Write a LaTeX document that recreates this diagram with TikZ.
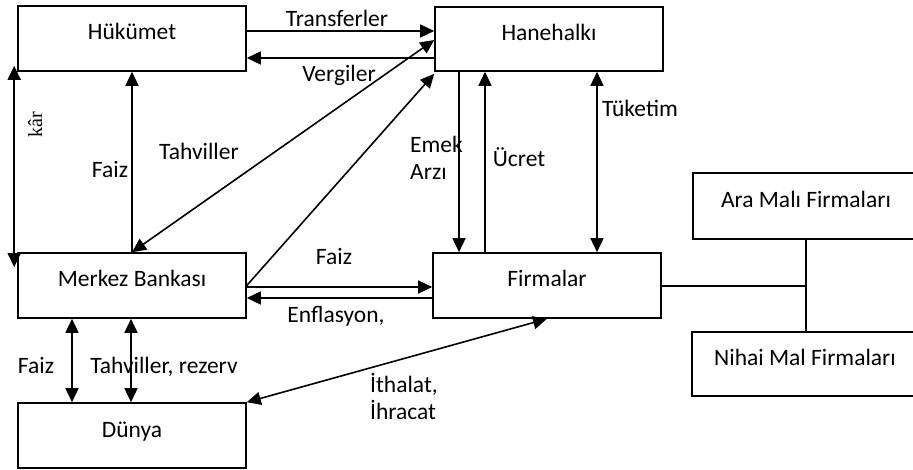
\documentclass[tikz,border=0pt]{standalone}
\usepackage{fontspec}
\setmainfont{Carlito}
\newfontfamily\serifkar{Liberation Serif}
\usetikzlibrary{arrows.meta}
\begin{document}
\begin{tikzpicture}[x=1pt,y=-1pt,
  every node/.style={font=\fontsize{23.5}{27}\selectfont},
  box/.style={draw, line width=1.6pt, minimum width=228pt, minimum height=65pt, inner sep=0pt, text height=17pt, text depth=14pt},
  lbl/.style={inner sep=0pt, anchor=base},
  ln/.style={line width=1.6pt},
  arr/.style={ln, -{Triangle[length=14pt,width=13pt]}},
  darr/.style={ln, {Triangle[length=14pt,width=13pt]}-{Triangle[length=14pt,width=13pt]}}]
\useasboundingbox (0,0) rectangle (913,470);
% boxes
\node[box] (huk) at (132,38.5) {Hükümet};
\node[box, minimum height=64pt] (hane) at (549,39) {Hanehalkı};
\node[box] (mb) at (132,285.5) {Merkez Bankası};
\node[box] (firm) at (547,285.5) {Firmalar};
\node[box] (dun) at (132,435.5) {Dünya};
\node[box, minimum width=226pt, minimum height=66pt] (ara) at (806,206) {Ara Malı Firmaları};
\node[box, minimum width=226pt, minimum height=64pt] (nih) at (805,364) {Nihai Mal Firmaları};
% connectors
\draw[arr] ([yshift=7.5pt]huk.east) -- ([yshift=8pt]hane.west);
\draw[arr] ([yshift=-19pt]hane.west) -- ([yshift=-19.5pt]huk.east);
\draw[darr] ([xshift=-3pt,yshift=6pt]huk.south west) -- ([xshift=-3pt,yshift=-15pt]mb.north west);
\draw[arr] (mb.north) -- (huk.south);
\draw[darr] (mb.north) -- ([yshift=-1pt]hane.west);
\draw[arr] (mb.east) -- ([yshift=-2pt]hane.south west);
\draw[arr] ([yshift=-1.5pt]mb.east) -- ([yshift=-1.5pt]firm.west);
\draw[arr] ([yshift=-12.5pt]firm.west) -- ([yshift=-12.5pt]mb.east);
\draw[arr] ([xshift=-90pt]hane.south) -- ([xshift=-88pt]firm.north);
\draw[arr] ([xshift=-62pt]firm.north) -- ([xshift=-64pt]hane.south);
\draw[darr] ([xshift=48pt]hane.south) -- ([xshift=50pt]firm.north);
\draw[ln] ([yshift=-0.5pt]firm.east) -- ([yshift=-0.5pt]firm.east -| ara.south);
\draw[ln] (ara.south) -- (ara.south |- nih.north);
\draw[darr] ([xshift=-60pt]mb.south) -- ([xshift=-60pt]dun.north);
\draw[darr] ([xshift=-1pt]mb.south) -- ([xshift=-1pt]dun.north);
\draw[darr] (dun.north east) -- (firm.south);
% labels
\node[lbl] (lTr) at (337,27) {Transferler};
\node[lbl] (lVe) at (339,82) {Vergiler};
\node[lbl, rotate=90, font=\serifkar\fontsize{20}{24}\selectfont] (lKar) at (42,125) {kâr};
\node[lbl] (lF1) at (110,178) {Faiz};
\node[lbl] (lTah) at (199,160) {Tahviller};
\node[lbl, anchor=base west] (lEmek) at (410,153) {\begin{tabular}[t]{@{}l@{}}Emek\\Arzı\end{tabular}};
\node[lbl] (lUc) at (519,167) {Ücret};
\node[lbl] (lTu) at (640,117) {Tüketim};
\node[lbl] (lF2) at (334,265) {Faiz};
\node[lbl] (lEn) at (336,323) {Enflasyon,};
\node[lbl] (lF3) at (36,373) {Faiz};
\node[lbl] (lTr2) at (164,373) {Tahviller, rezerv};
\node[lbl, anchor=base west] (lIth) at (370,392) {\begin{tabular}[t]{@{}l@{}}İthalat,\\İhracat\end{tabular}};
\end{tikzpicture}
\end{document}
